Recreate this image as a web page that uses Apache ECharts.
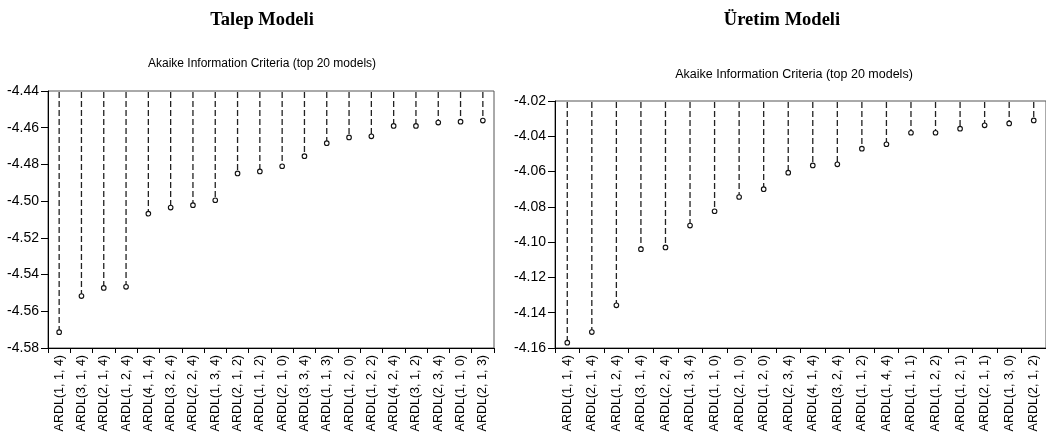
<!DOCTYPE html>
<html>
<head>
<meta charset="utf-8">
<script src="https://cdn.jsdelivr.net/npm/echarts@6/dist/echarts.min.js"></script>
<style>html,body{margin:0;padding:0;background:#fff}#c{width:1046px;height:436px}</style>
</head>
<body>
<div id="c"></div>
<script>
const talepCategories = ['ARDL(1, 1, 4)','ARDL(3, 1, 4)','ARDL(2, 1, 4)','ARDL(1, 2, 4)','ARDL(4, 1, 4)','ARDL(3, 2, 4)','ARDL(2, 2, 4)','ARDL(1, 3, 4)','ARDL(2, 1, 2)','ARDL(1, 1, 2)','ARDL(2, 1, 0)','ARDL(3, 3, 4)','ARDL(1, 1, 3)','ARDL(1, 2, 0)','ARDL(1, 2, 2)','ARDL(4, 2, 4)','ARDL(3, 1, 2)','ARDL(2, 3, 4)','ARDL(1, 1, 0)','ARDL(2, 1, 3)'];
const talepValues = [-4.5714,-4.5517,-4.5473,-4.5467,-4.5068,-4.5035,-4.5022,-4.4995,-4.4849,-4.4838,-4.4810,-4.4755,-4.4684,-4.4653,-4.4647,-4.4590,-4.4590,-4.4572,-4.4567,-4.4561];
const uretimCategories = ['ARDL(1, 1, 4)','ARDL(2, 1, 4)','ARDL(1, 2, 4)','ARDL(3, 1, 4)','ARDL(2, 2, 4)','ARDL(1, 3, 4)','ARDL(1, 1, 0)','ARDL(2, 1, 0)','ARDL(1, 2, 0)','ARDL(2, 3, 4)','ARDL(4, 1, 4)','ARDL(3, 2, 4)','ARDL(1, 1, 2)','ARDL(1, 4, 4)','ARDL(1, 1, 1)','ARDL(1, 2, 2)','ARDL(1, 2, 1)','ARDL(2, 1, 1)','ARDL(1, 3, 0)','ARDL(2, 1, 2)'];
const uretimValues = [-4.1570,-4.1510,-4.1358,-4.1040,-4.1030,-4.0906,-4.0825,-4.0744,-4.0700,-4.0606,-4.0565,-4.0559,-4.0470,-4.0445,-4.0380,-4.0380,-4.0357,-4.0338,-4.0327,-4.0310];
const talepAxis = {min:-4.58, max:-4.44, interval:0.02};
const uretimAxis = {min:-4.16, max:-4.02, interval:0.02};

const chart = echarts.init(document.getElementById('c'), null, {renderer:'canvas'});
const sans = 'Arial, "Liberation Sans", sans-serif';
const serif = '"Times New Roman", "Liberation Serif", serif';

function stemRenderer(topVal){
  return function(params, api){
    const i = api.value(0), v = api.value(1);
    const t = api.coord([i, topVal]);
    const p = api.coord([i, v]);
    return {type:'group', children:[
      {type:'line', shape:{x1:t[0], y1:t[1]+1, x2:p[0], y2:p[1]-2}, style:{stroke:'#222', lineWidth:1.3, lineDash:[6,3]}},
      {type:'circle', shape:{cx:p[0], cy:p[1], r:2.3}, style:{fill:'#fff', stroke:'#111', lineWidth:1.1}}
    ]};
  };
}
function yAxisCfg(ax, idx){
  return {type:'value', gridIndex:idx, min:ax.min, max:ax.max, interval:ax.interval,
    axisLine:{show:true, lineStyle:{color:'#000', width:1}},
    axisTick:{show:true, length:7, lineStyle:{color:'#000'}},
    splitLine:{show:false},
    axisLabel:{fontFamily:sans, fontSize:14, color:'#000', margin:9, formatter:v=>v.toFixed(2)}};
}
function xAxisCfg(cats, idx){
  return {type:'category', gridIndex:idx, data:cats, boundaryGap:true,
    axisLine:{show:true, lineStyle:{color:'#000', width:1}},
    axisTick:{show:true, length:5, interval:0, lineStyle:{color:'#000'}},
    axisLabel:{interval:0, rotate:90, fontFamily:sans, fontSize:12.5, color:'#000', margin:7}};
}

chart.setOption({
  animation:false,
  backgroundColor:'#fff',
  title:[
    {text:'Talep Modeli', left:257, top:6, textAlign:'center', textStyle:{fontFamily:serif, fontWeight:'bold', fontSize:18.5, color:'#000'}},
    {text:'Üretim Modeli', left:777, top:6, textAlign:'center', textStyle:{fontFamily:serif, fontWeight:'bold', fontSize:18.5, color:'#000'}},
    {text:'Akaike Information Criteria (top 20 models)', left:257, top:53, textAlign:'center', textStyle:{fontFamily:sans, fontWeight:'normal', fontSize:12, color:'#000'}},
    {text:'Akaike Information Criteria (top 20 models)', left:789, top:63, textAlign:'center', textStyle:{fontFamily:sans, fontWeight:'normal', fontSize:12.5, color:'#000'}}
  ],
  grid:[
    {left:48, top:91, width:446, height:257, show:true, borderColor:'#555', borderWidth:1, backgroundColor:'transparent'},
    {left:555, top:101, width:493, height:247, show:true, borderColor:'#555', borderWidth:1, backgroundColor:'transparent'}
  ],
  xAxis:[xAxisCfg(talepCategories,0), xAxisCfg(uretimCategories,1)],
  yAxis:[yAxisCfg(talepAxis,0), yAxisCfg(uretimAxis,1)],
  series:[
    {type:'custom', xAxisIndex:0, yAxisIndex:0, renderItem:stemRenderer(talepAxis.max), data:talepValues.map((v,i)=>[i,v]), clip:false},
    {type:'custom', xAxisIndex:1, yAxisIndex:1, renderItem:stemRenderer(uretimAxis.max), data:uretimValues.map((v,i)=>[i,v]), clip:false}
  ]
});
</script>
</body>
</html>
